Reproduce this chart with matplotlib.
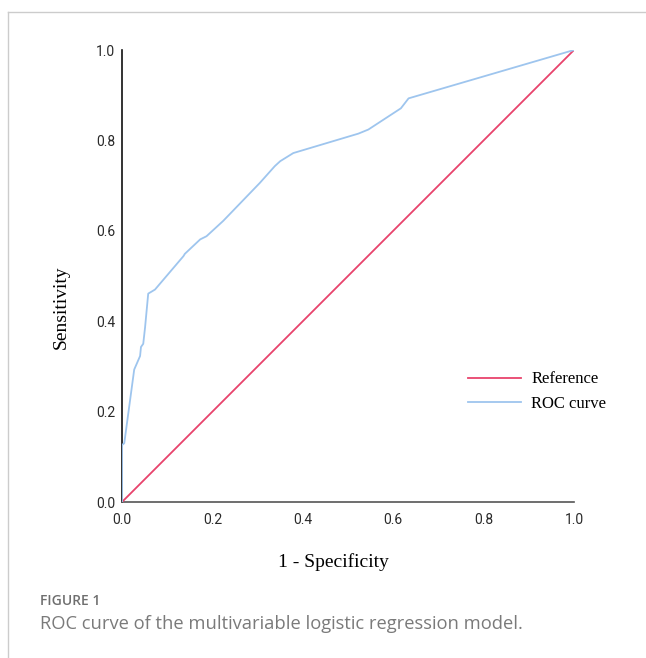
import matplotlib
matplotlib.use("Agg")
import matplotlib.pyplot as plt
from matplotlib.lines import Line2D

# ROC curve points (1 - specificity, sensitivity)
fpr = [0.0, 0.0, 0.005, 0.027, 0.040, 0.042, 0.047, 0.051, 0.058, 0.073,
       0.136, 0.139, 0.173, 0.187, 0.224, 0.305, 0.338, 0.350, 0.379,
       0.523, 0.545, 0.617, 0.634, 1.0]
tpr = [0.0, 0.126, 0.130, 0.293, 0.323, 0.343, 0.350, 0.386, 0.461, 0.470,
       0.544, 0.549, 0.581, 0.588, 0.622, 0.706, 0.743, 0.754, 0.772,
       0.815, 0.824, 0.871, 0.893, 1.0]
ref_x = [0.0, 1.0]
ref_y = [0.0, 1.0]
ticks = [0.0, 0.2, 0.4, 0.6, 0.8, 1.0]
tick_labels = ["0.0", "0.2", "0.4", "0.6", "0.8", "1.0"]

red = "#e8436c"
blue = "#9ec5ee"

fig = plt.figure(figsize=(6.46, 6.58), dpi=100)
fig.patch.set_facecolor("white")

# page frame (light gray top and left border)
fig.add_artist(Line2D([8/646, 1], [1 - 12/658, 1 - 12/658], color="#cccccc", lw=1))
fig.add_artist(Line2D([8/646, 8/646], [0, 1 - 12/658], color="#cccccc", lw=1))

ax = fig.add_axes([122/646, (658-502)/658, 452/646, 452/658])
ax.plot(ref_x, ref_y, color=red, lw=1.3, label="Reference", zorder=3)
ax.plot(fpr, tpr, color=blue, lw=1.3, label="ROC curve", zorder=4)

ax.set_xlim(0, 1)
ax.set_ylim(0, 1)
for s in ["top", "right"]:
    ax.spines[s].set_visible(False)
ax.spines["left"].set_color("#111111")
ax.spines["left"].set_linewidth(1.2)
ax.spines["bottom"].set_color("#555555")
ax.spines["bottom"].set_linewidth(1.2)

tick_font = dict(family="Roboto", size=10)
ax.set_xticks(ticks)
ax.set_yticks(ticks)
ax.set_xticklabels(tick_labels, fontdict=tick_font, color="#2a2a2a")
ax.set_yticklabels(tick_labels, fontdict=tick_font, color="#2a2a2a")
ax.tick_params(axis="x", length=0, pad=8)
ax.tick_params(axis="y", length=0, pad=5)

ax.set_xlabel("1 - Specificity", family="Liberation Serif", fontsize=14)
ax.set_ylabel("Sensitivity", family="Liberation Serif", fontsize=14)
ax.xaxis.set_label_coords(0.467, -0.113)
ax.yaxis.set_label_coords(-0.115, 0.43)

ax.legend(loc="upper left", bbox_to_anchor=(0.765, 0.289), frameon=False,
          prop={"family": "Liberation Serif", "size": 12},
          handlelength=3.2, handletextpad=0.6, labelspacing=0.5,
          borderpad=0, borderaxespad=0)

fig.text(40/646, 1 - 601/658, "FIGURE 1", family="Open Sans", fontsize=10,
         fontweight="semibold", color="#6f6f6f", va="center", ha="left")
fig.text(40/646, 1 - 624/658, "ROC curve of the multivariable logistic regression model.",
         family="Open Sans", fontsize=13.2, color="#7a7a7a", va="center", ha="left")

fig.savefig("out.png", dpi=100, facecolor="white")
